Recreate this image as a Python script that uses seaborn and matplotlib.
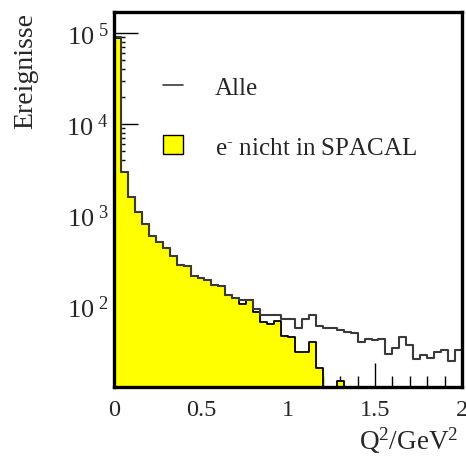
import numpy as np
import pandas as pd
import matplotlib
matplotlib.use("Agg")
import matplotlib.pyplot as plt
import seaborn as sns
from matplotlib.lines import Line2D
from matplotlib.patches import Patch
from matplotlib.ticker import FixedLocator, FixedFormatter, LogLocator, MultipleLocator, NullFormatter

# ---- data ----
q2_min, q2_max, n_bins = 0.0, 2.0, 50
alle = [90000, 2950, 1570, 1070, 800, 585, 500, 435, 357, 283,
        277, 214, 203, 193, 170, 167, 133, 124, 116, 116,
        93, 80, 80, 80, 72, 72, 57, 72, 80, 61,
        57, 57, 54, 52, 51, 40, 43, 42, 43, 30,
        35, 46, 37, 26, 29, 27, 31, 33, 25, 33]
nicht_spacal = [87500, 2950, 1570, 1070, 800, 585, 500, 435, 357, 283,
                277, 214, 203, 193, 170, 167, 133, 124, 105, 116,
                87, 67, 63, 69, 47, 46, 31, 31, 40, 21,
                0, 0, 15, 0, 0, 0, 0, 0, 0, 0,
                0, 0, 0, 0, 0, 0, 0, 0, 0, 0]
x_ticks = [0, 0.5, 1, 1.5, 2]
x_tick_labels = ["0", "0.5", "1", "1.5", "2"]
y_ticks = [1e2, 1e3, 1e4, 1e5]
y_tick_labels = [r"$10^{\,\,2}$", r"$10^{\,\,3}$", r"$10^{\,\,4}$", r"$10^{\,\,5}$"]
labels = ["Alle", r"e$^{\text{-}}$ nicht in SPACAL"]

edges = np.linspace(q2_min, q2_max, n_bins + 1)
centers = 0.5 * (edges[:-1] + edges[1:])
binwidth = (q2_max - q2_min) / n_bins
df = pd.DataFrame({"q2": centers, "alle": alle, "nicht": nicht_spacal})

# ---- style ----
sns.set_theme(style="white")
plt.rcParams["font.family"] = ["Liberation Serif", "DejaVu Serif"]
plt.rcParams["mathtext.fontset"] = "custom"
plt.rcParams["mathtext.rm"] = "Liberation Serif"
plt.rcParams["mathtext.it"] = "Liberation Serif:italic"
plt.rcParams["mathtext.default"] = "rm"

fig = plt.figure(figsize=(4.66, 4.64), dpi=100)
ax = fig.add_axes([0.2446, 0.1638, 0.7468, 0.808])

sns.histplot(data=df, x="q2", weights="nicht", binwidth=binwidth,
             binrange=(q2_min, q2_max), element="step",
             fill=True, color="#ffff00", alpha=1, ax=ax)
sns.histplot(data=df, x="q2", weights="nicht", binwidth=binwidth,
             binrange=(q2_min, q2_max), element="step",
             fill=False, color="black", linewidth=1.3, ax=ax)
sns.histplot(data=df, x="q2", weights="alle", binwidth=binwidth,
             binrange=(q2_min, q2_max), element="step",
             fill=False, color="#3a3a3a", linewidth=1.5, ax=ax)

ax.set_yscale("log")
ax.set_xlim(q2_min, q2_max)
ax.set_ylim(12.9, 1.7e5)

for s in ax.spines.values():
    s.set_linewidth(2.4)
    s.set_color("black")

ax.xaxis.set_major_locator(FixedLocator(x_ticks))
ax.xaxis.set_major_formatter(FixedFormatter(x_tick_labels))
ax.xaxis.set_minor_locator(MultipleLocator(0.1))
ax.yaxis.set_major_locator(FixedLocator(y_ticks))
ax.yaxis.set_major_formatter(FixedFormatter(y_tick_labels))
ax.yaxis.set_minor_locator(LogLocator(base=10, subs=np.arange(2, 10)))
ax.yaxis.set_minor_formatter(NullFormatter())

ax.tick_params(which="both", direction="in", bottom=True, left=True,
               top=False, right=False, color="black", width=1.0)
ax.tick_params(which="major", length=17)
ax.tick_params(which="minor", length=8)
ax.tick_params(axis="x", which="major", pad=9, labelsize=17.5)
ax.tick_params(axis="y", which="major", pad=4, labelsize=19)

ax.set_xlabel(r"Q$^{2}$/GeV$^{2}$", fontsize=19.5, labelpad=7)
ax.xaxis.set_label_coords(0.99, -0.1, transform=ax.transAxes)
ax.xaxis.label.set_horizontalalignment("right")
ax.set_ylabel("Ereignisse", fontsize=20, loc="top", labelpad=20)

handles = [Line2D([0], [0], color="#3a3a3a", lw=1.2),
           Patch(facecolor="#ffff00", edgecolor="black", linewidth=1.0)]
ax.legend(handles, labels, loc="upper left", bbox_to_anchor=(0.14, 0.83),
          frameon=False, fontsize=18, handlelength=0.8, handleheight=0.8,
          handletextpad=1.3, labelspacing=1.45, borderpad=0, borderaxespad=0)

fig.savefig("out.png", dpi=100)
